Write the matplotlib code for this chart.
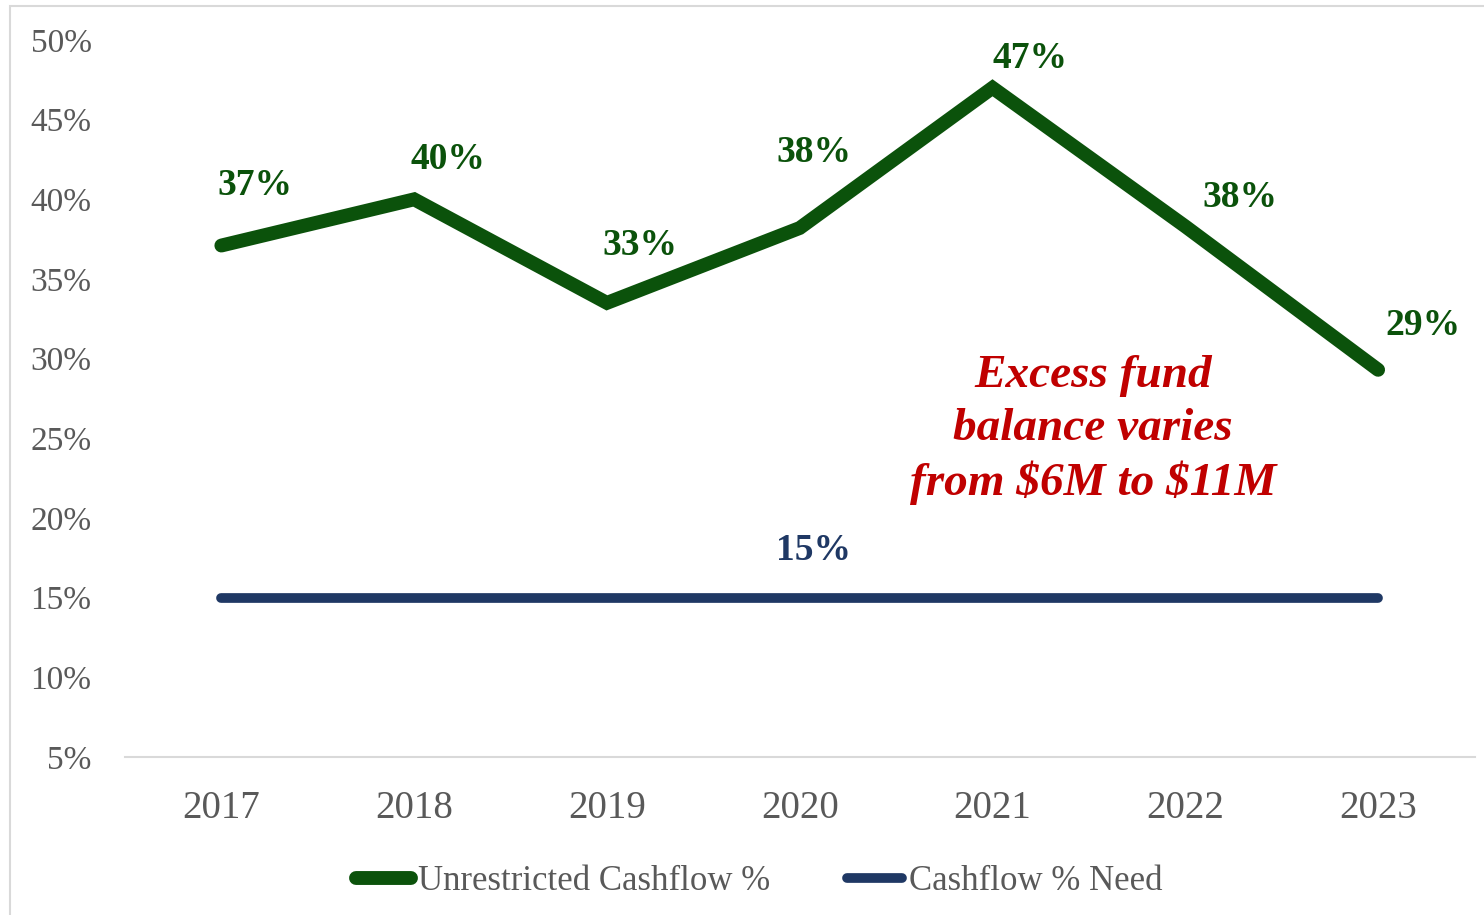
import numpy as np
import matplotlib.pyplot as plt
from matplotlib.patches import Rectangle

years = ['2017', '2018', '2019', '2020', '2021', '2022', '2023']
unrestricted = [37.1, 40.0, 33.5, 38.2, 47.0, 38.3, 29.3]
need = [15, 15, 15, 15, 15, 15, 15]
unrestricted_labels = ['37%', '40%', '33%', '38%', '47%', '38%', '29%']
need_label = '15%'
note = 'Excess fund\nbalance varies\nfrom \\$6M to \\$11M'

GREEN = '#0B520B'
NAVY = '#1F3864'
RED = '#C00000'
GRAY = '#595959'

plt.rcParams['font.family'] = ['Liberation Serif', 'DejaVu Serif']

fig = plt.figure(figsize=(14.84, 9.15), dpi=100)
ax = fig.add_axes([0.0842, 0.1727, 0.9094, 0.7836])

# light frame round the chart area
fig.patches.append(Rectangle((10 / 1484, -0.1), 1.2, 1.1 - 6 / 915,
                             transform=fig.transFigure, fill=False,
                             edgecolor='#D9D9D9', linewidth=1.5))

x = np.arange(len(years))
ax.plot(x, unrestricted, color=GREEN, lw=10, solid_capstyle='round',
        solid_joinstyle='miter', label='Unrestricted Cashflow %')
ax.plot(x, need, color=NAVY, lw=7, solid_capstyle='round',
        label='Cashflow % Need')

# data labels (offsets in points, placed by hand as in the original)
offsets = [(24, 43), (24, 29), (24, 41), (10, 54), (27, 21), (39, 21), (32, 32)]
for xi, v, lab, (dx, dy) in zip(x, unrestricted, unrestricted_labels, offsets):
    ax.annotate(lab, (xi, v), xytext=(dx, dy), textcoords='offset points',
                ha='center', va='center', fontsize=27, fontweight='bold',
                color=GREEN)
ax.annotate(need_label, (3, need[3]), xytext=(10, 34), textcoords='offset points',
            ha='center', va='center', fontsize=27, fontweight='bold', color=NAVY)

ax.text(4.52, 25.5, note, ha='center', va='center', fontsize=34,
        fontweight='bold', fontstyle='italic', color=RED, linespacing=1.32)

ax.set_xlim(-0.5, 6.5)
ax.set_ylim(5, 50)
ax.set_xticks(x)
ax.set_xticklabels(years)
ax.set_yticks(np.arange(5, 51, 5))
ax.set_yticklabels([f'{t}%' for t in range(5, 51, 5)])
ax.tick_params(axis='x', length=0, labelsize=28, labelcolor=GRAY, pad=24)
ax.tick_params(axis='y', length=0, labelsize=24, labelcolor=GRAY, pad=24)
for s in ['top', 'right', 'left']:
    ax.spines[s].set_visible(False)
ax.spines['bottom'].set_color('#D9D9D9')
ax.spines['bottom'].set_linewidth(1.5)

leg = ax.legend(loc='upper center', bbox_to_anchor=(0.47, -0.107), ncol=2,
                frameon=False, fontsize=25, handlelength=1.6,
                handletextpad=0.2, columnspacing=2.2)
for t in leg.get_texts():
    t.set_color(GRAY)

fig.savefig('out.png', dpi=100)
